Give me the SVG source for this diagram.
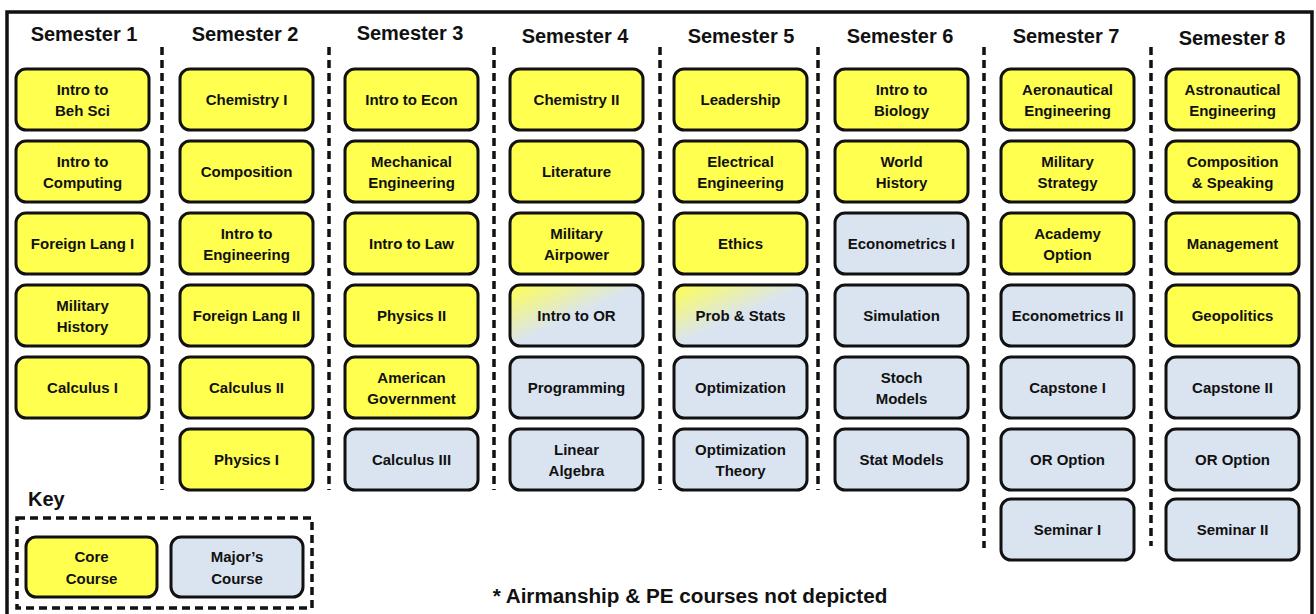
<svg xmlns="http://www.w3.org/2000/svg" width="1316" height="614" viewBox="0 0 1316 614">
<defs>
<linearGradient id="mix" x1="0" y1="0" x2="1" y2="1">
<stop offset="0" stop-color="#FFFF50"/>
<stop offset="0.5" stop-color="#DAE4F0"/>
<stop offset="1" stop-color="#DAE4F0"/>
</linearGradient>
<style>
text{font-family:"Liberation Sans",Arial,sans-serif;font-weight:bold;fill:#111;text-anchor:middle}
.hd{font-size:20px}
.t{font-size:15px}
.box{stroke:#111;stroke-width:3}
.y{fill:#FFFF50}
.b{fill:#DAE4F0}
.g{fill:url(#mix)}
.dash{stroke:#111;stroke-width:3.5;stroke-dasharray:8 5;fill:none}
</style>
</defs>
<rect x="0" y="0" width="1316" height="614" fill="#fff"/>
<rect x="7" y="12" width="1305" height="640" fill="none" stroke="#111" stroke-width="3.5"/>
<g id="connectors">
<line class="dash" x1="162" y1="47" x2="162" y2="490"/>
<line class="dash" x1="329" y1="47" x2="329" y2="490"/>
<line class="dash" x1="494" y1="47" x2="494" y2="490"/>
<line class="dash" x1="660" y1="47" x2="660" y2="490"/>
<line class="dash" x1="818" y1="47" x2="818" y2="490"/>
<line class="dash" x1="984" y1="47" x2="984" y2="548"/>
<line class="dash" x1="1151" y1="47" x2="1151" y2="546"/>
</g>
<g id="headers">
<text class="hd" x="84" y="41">Semester 1</text>
<text class="hd" x="245" y="41">Semester 2</text>
<text class="hd" x="410" y="40">Semester 3</text>
<text class="hd" x="575" y="43">Semester 4</text>
<text class="hd" x="741" y="43">Semester 5</text>
<text class="hd" x="900" y="43">Semester 6</text>
<text class="hd" x="1066" y="43">Semester 7</text>
<text class="hd" x="1232" y="45">Semester 8</text>
</g>
<!-- Semester 1 -->
<g id="s1-1"><rect class="box y" x="16" y="69" width="133" height="61" rx="10"/><text class="t" x="82.5" y="95">Intro to</text><text class="t" x="82.5" y="116">Beh Sci</text></g>
<g id="s1-2"><rect class="box y" x="16" y="141" width="133" height="61" rx="10"/><text class="t" x="82.5" y="167">Intro to</text><text class="t" x="82.5" y="188">Computing</text></g>
<g id="s1-3"><rect class="box y" x="16" y="213" width="133" height="61" rx="10"/><text class="t" x="82.5" y="249">Foreign Lang I</text></g>
<g id="s1-4"><rect class="box y" x="16" y="285" width="133" height="61" rx="10"/><text class="t" x="82.5" y="311">Military</text><text class="t" x="82.5" y="332">History</text></g>
<g id="s1-5"><rect class="box y" x="16" y="357" width="133" height="61" rx="10"/><text class="t" x="82.5" y="393">Calculus I</text></g>
<!-- Semester 2 -->
<g id="s2-1"><rect class="box y" x="180" y="69" width="133" height="61" rx="10"/><text class="t" x="246.5" y="105">Chemistry I</text></g>
<g id="s2-2"><rect class="box y" x="180" y="141" width="133" height="61" rx="10"/><text class="t" x="246.5" y="177">Composition</text></g>
<g id="s2-3"><rect class="box y" x="180" y="213" width="133" height="61" rx="10"/><text class="t" x="246.5" y="239">Intro to</text><text class="t" x="246.5" y="260">Engineering</text></g>
<g id="s2-4"><rect class="box y" x="180" y="285" width="133" height="61" rx="10"/><text class="t" x="246.5" y="321">Foreign Lang II</text></g>
<g id="s2-5"><rect class="box y" x="180" y="357" width="133" height="61" rx="10"/><text class="t" x="246.5" y="393">Calculus II</text></g>
<g id="s2-6"><rect class="box y" x="180" y="429" width="133" height="61" rx="10"/><text class="t" x="246.5" y="465">Physics I</text></g>
<!-- Semester 3 -->
<g id="s3-1"><rect class="box y" x="345" y="69" width="133" height="61" rx="10"/><text class="t" x="411.5" y="105">Intro to Econ</text></g>
<g id="s3-2"><rect class="box y" x="345" y="141" width="133" height="61" rx="10"/><text class="t" x="411.5" y="167">Mechanical</text><text class="t" x="411.5" y="188">Engineering</text></g>
<g id="s3-3"><rect class="box y" x="345" y="213" width="133" height="61" rx="10"/><text class="t" x="411.5" y="249">Intro to Law</text></g>
<g id="s3-4"><rect class="box y" x="345" y="285" width="133" height="61" rx="10"/><text class="t" x="411.5" y="321">Physics II</text></g>
<g id="s3-5"><rect class="box y" x="345" y="357" width="133" height="61" rx="10"/><text class="t" x="411.5" y="383">American</text><text class="t" x="411.5" y="404">Government</text></g>
<g id="s3-6"><rect class="box b" x="345" y="429" width="133" height="61" rx="10"/><text class="t" x="411.5" y="465">Calculus III</text></g>
<!-- Semester 4 -->
<g id="s4-1"><rect class="box y" x="510" y="69" width="133" height="61" rx="10"/><text class="t" x="576.5" y="105">Chemistry II</text></g>
<g id="s4-2"><rect class="box y" x="510" y="141" width="133" height="61" rx="10"/><text class="t" x="576.5" y="177">Literature</text></g>
<g id="s4-3"><rect class="box y" x="510" y="213" width="133" height="61" rx="10"/><text class="t" x="576.5" y="239">Military</text><text class="t" x="576.5" y="260">Airpower</text></g>
<g id="s4-4"><rect class="box g" x="510" y="285" width="133" height="61" rx="10"/><text class="t" x="576.5" y="321">Intro to OR</text></g>
<g id="s4-5"><rect class="box b" x="510" y="357" width="133" height="61" rx="10"/><text class="t" x="576.5" y="393">Programming</text></g>
<g id="s4-6"><rect class="box b" x="510" y="429" width="133" height="61" rx="10"/><text class="t" x="576.5" y="455">Linear</text><text class="t" x="576.5" y="476">Algebra</text></g>
<!-- Semester 5 -->
<g id="s5-1"><rect class="box y" x="674" y="69" width="133" height="61" rx="10"/><text class="t" x="740.5" y="105">Leadership</text></g>
<g id="s5-2"><rect class="box y" x="674" y="141" width="133" height="61" rx="10"/><text class="t" x="740.5" y="167">Electrical</text><text class="t" x="740.5" y="188">Engineering</text></g>
<g id="s5-3"><rect class="box y" x="674" y="213" width="133" height="61" rx="10"/><text class="t" x="740.5" y="249">Ethics</text></g>
<g id="s5-4"><rect class="box g" x="674" y="285" width="133" height="61" rx="10"/><text class="t" x="740.5" y="321">Prob &amp; Stats</text></g>
<g id="s5-5"><rect class="box b" x="674" y="357" width="133" height="61" rx="10"/><text class="t" x="740.5" y="393">Optimization</text></g>
<g id="s5-6"><rect class="box b" x="674" y="429" width="133" height="61" rx="10"/><text class="t" x="740.5" y="455">Optimization</text><text class="t" x="740.5" y="476">Theory</text></g>
<!-- Semester 6 -->
<g id="s6-1"><rect class="box y" x="835" y="69" width="133" height="61" rx="10"/><text class="t" x="901.5" y="95">Intro to</text><text class="t" x="901.5" y="116">Biology</text></g>
<g id="s6-2"><rect class="box y" x="835" y="141" width="133" height="61" rx="10"/><text class="t" x="901.5" y="167">World</text><text class="t" x="901.5" y="188">History</text></g>
<g id="s6-3"><rect class="box b" x="835" y="213" width="133" height="61" rx="10"/><text class="t" x="901.5" y="249">Econometrics I</text></g>
<g id="s6-4"><rect class="box b" x="835" y="285" width="133" height="61" rx="10"/><text class="t" x="901.5" y="321">Simulation</text></g>
<g id="s6-5"><rect class="box b" x="835" y="357" width="133" height="61" rx="10"/><text class="t" x="901.5" y="383">Stoch</text><text class="t" x="901.5" y="404">Models</text></g>
<g id="s6-6"><rect class="box b" x="835" y="429" width="133" height="61" rx="10"/><text class="t" x="901.5" y="465">Stat Models</text></g>
<!-- Semester 7 -->
<g id="s7-1"><rect class="box y" x="1001" y="69" width="133" height="61" rx="10"/><text class="t" x="1067.5" y="95">Aeronautical</text><text class="t" x="1067.5" y="116">Engineering</text></g>
<g id="s7-2"><rect class="box y" x="1001" y="141" width="133" height="61" rx="10"/><text class="t" x="1067.5" y="167">Military</text><text class="t" x="1067.5" y="188">Strategy</text></g>
<g id="s7-3"><rect class="box y" x="1001" y="213" width="133" height="61" rx="10"/><text class="t" x="1067.5" y="239">Academy</text><text class="t" x="1067.5" y="260">Option</text></g>
<g id="s7-4"><rect class="box b" x="1001" y="285" width="133" height="61" rx="10"/><text class="t" x="1067.5" y="321">Econometrics II</text></g>
<g id="s7-5"><rect class="box b" x="1001" y="357" width="133" height="61" rx="10"/><text class="t" x="1067.5" y="393">Capstone I</text></g>
<g id="s7-6"><rect class="box b" x="1001" y="429" width="133" height="61" rx="10"/><text class="t" x="1067.5" y="465">OR Option</text></g>
<g id="s7-7"><rect class="box b" x="1001" y="499" width="133" height="61" rx="10"/><text class="t" x="1067.5" y="535">Seminar I</text></g>
<!-- Semester 8 -->
<g id="s8-1"><rect class="box y" x="1166" y="69" width="133" height="61" rx="10"/><text class="t" x="1232.5" y="95">Astronautical</text><text class="t" x="1232.5" y="116">Engineering</text></g>
<g id="s8-2"><rect class="box y" x="1166" y="141" width="133" height="61" rx="10"/><text class="t" x="1232.5" y="167">Composition</text><text class="t" x="1232.5" y="188">&amp; Speaking</text></g>
<g id="s8-3"><rect class="box y" x="1166" y="213" width="133" height="61" rx="10"/><text class="t" x="1232.5" y="249">Management</text></g>
<g id="s8-4"><rect class="box y" x="1166" y="285" width="133" height="61" rx="10"/><text class="t" x="1232.5" y="321">Geopolitics</text></g>
<g id="s8-5"><rect class="box b" x="1166" y="357" width="133" height="61" rx="10"/><text class="t" x="1232.5" y="393">Capstone II</text></g>
<g id="s8-6"><rect class="box b" x="1166" y="429" width="133" height="61" rx="10"/><text class="t" x="1232.5" y="465">OR Option</text></g>
<g id="s8-7"><rect class="box b" x="1166" y="499" width="133" height="61" rx="10"/><text class="t" x="1232.5" y="535">Seminar II</text></g>
<!-- Key -->
<g id="key">
<text class="hd" x="28" y="506" style="text-anchor:start">Key</text>
<rect class="dash" x="17" y="518" width="295" height="90"/>
<g id="key-core"><rect class="box y" x="26" y="537" width="131" height="60" rx="10"/><text class="t" x="91.5" y="562">Core</text><text class="t" x="91.5" y="584">Course</text></g>
<g id="key-major"><rect class="box b" x="171" y="537" width="132" height="60" rx="10"/><text class="t" x="237" y="562">Major’s</text><text class="t" x="237" y="584">Course</text></g>
</g>
<g id="note"><text x="690" y="603" style="font-size:20.7px">* Airmanship &amp; PE courses not depicted</text></g>
</svg>
